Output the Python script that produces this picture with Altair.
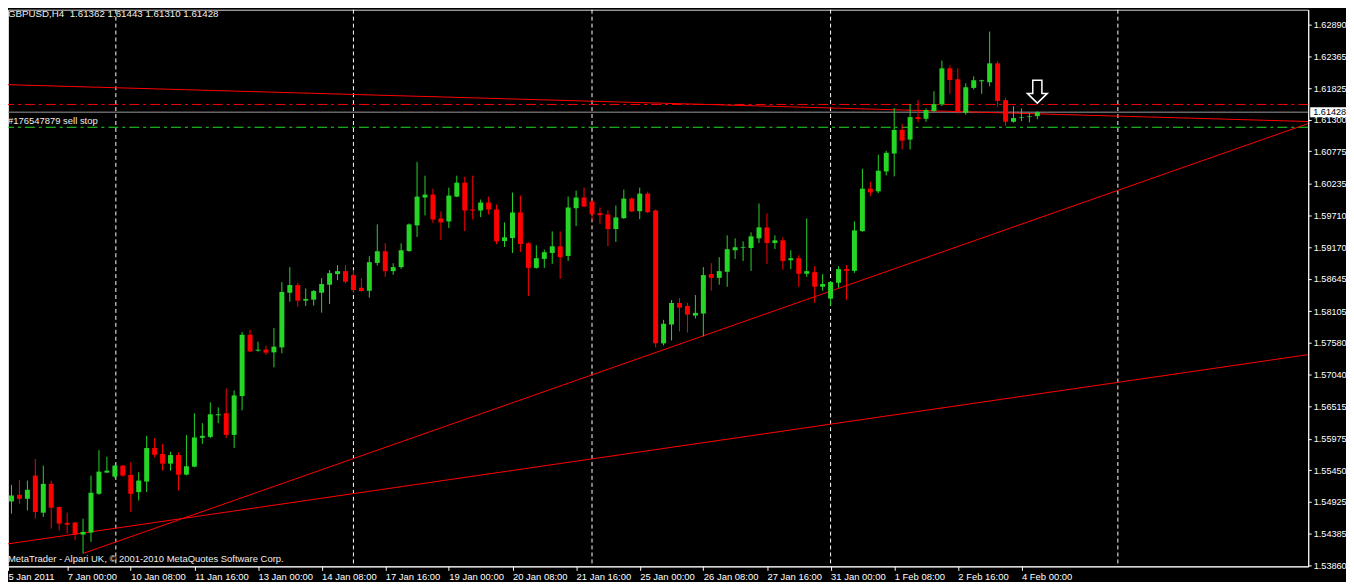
import json
import altair as alt
import pandas as pd

# ---------------- data ----------------
symbol_title = "GBPUSD,H4\u00a0\u00a01.61362 1.61443 1.61310 1.61428"
footer_text = "MetaTrader - Alpari UK, \u00a9 2001-2010 MetaQuotes Software Corp."
order_text = "#176547879 sell stop"
bid_text = "1.61428"

opens = [1.54922, 1.54927, 1.55038, 1.54972, 1.55359, 1.54740, 1.55221, 1.54834, 1.54569, 1.54574,
         1.54374, 1.54408, 1.55055, 1.55409, 1.55342, 1.55525, 1.55370, 1.55083, 1.55259, 1.55819,
         1.55719, 1.55558, 1.55702, 1.55375, 1.55508, 1.55990, 1.56006, 1.56366, 1.56400, 1.56039,
         1.56687, 1.57711, 1.57445, 1.57462, 1.57417, 1.57500, 1.58413, 1.58541, 1.58280, 1.58297,
         1.58413, 1.58546, 1.58724, 1.58773, 1.58707, 1.58496, 1.58446, 1.58911, 1.59105, 1.58773,
         1.58840, 1.59110, 1.59537, 1.60002, 1.60052, 1.59653, 1.59603, 1.60018, 1.60251, 1.59803,
         1.59786, 1.59919, 1.59803, 1.59276, 1.59326, 1.59753, 1.59238, 1.58828, 1.58978, 1.59077,
         1.59188, 1.59027, 1.59824, 1.60002, 1.59935, 1.59741, 1.59720, 1.59476, 1.59658, 1.59985,
         1.59774, 1.60068, 1.59786, 1.57567, 1.57882, 1.58242, 1.58192, 1.58031, 1.58065, 1.58724,
         1.58662, 1.58762, 1.59122, 1.59160, 1.59160, 1.59321, 1.59504, 1.59243, 1.59288, 1.58956,
         1.58989, 1.58729, 1.58757, 1.58513, 1.58314, 1.58579, 1.58807, 1.58778, 1.59442, 1.60151,
         1.60106, 1.60438, 1.60737, 1.61131, 1.60970, 1.61346, 1.61318, 1.61446, 1.61557, 1.62160,
         1.61977, 1.61418, 1.61833, 1.61944, 1.61927, 1.62243, 1.61629, 1.61268, 1.61330, 1.61346,
         1.61362]
highs = [1.55110, 1.55204, 1.55287, 1.55276, 1.55636, 1.55525, 1.55276, 1.54844, 1.54740, 1.54585,
         1.54640, 1.55359, 1.55785, 1.55674, 1.55536, 1.55536, 1.55581, 1.55415, 1.56023, 1.55985,
         1.55885, 1.55757, 1.55747, 1.56034, 1.56400, 1.56234, 1.56582, 1.56499, 1.56815, 1.56781,
         1.57756, 1.57794, 1.57595, 1.57528, 1.57822, 1.58591, 1.58840, 1.58579, 1.58486, 1.58458,
         1.58657, 1.58790, 1.58873, 1.58873, 1.58790, 1.58657, 1.59022, 1.59554, 1.59238, 1.58906,
         1.59238, 1.59570, 1.60599, 1.60367, 1.60151, 1.59769, 1.60168, 1.60367, 1.60350, 1.60367,
         1.59969, 1.60018, 1.59886, 1.59587, 1.60085, 1.60035, 1.59255, 1.59205, 1.59134, 1.59437,
         1.59437, 1.60018, 1.60118, 1.60168, 1.59952, 1.59836, 1.59786, 1.59869, 1.60135, 1.60002,
         1.60168, 1.60101, 1.59803, 1.57960, 1.58292, 1.58325, 1.58242, 1.58375, 1.58840, 1.58906,
         1.59006, 1.59371, 1.59321, 1.59271, 1.59421, 1.59902, 1.59736, 1.59371, 1.59338, 1.59122,
         1.59039, 1.59653, 1.58856, 1.58724, 1.58607, 1.58856, 1.58873, 1.59603, 1.60483, 1.60267,
         1.60716, 1.60782, 1.61496, 1.61230, 1.61562, 1.61629, 1.61491, 1.61778, 1.62288, 1.62210,
         1.62160, 1.61911, 1.62027, 1.61969, 1.62774, 1.62276, 1.61667, 1.61529, 1.61491, 1.61413,
         1.61443]
lows = [1.54507, 1.54723, 1.54889, 1.54778, 1.54640, 1.54668, 1.54474, 1.54446, 1.54391, 1.54280,
        1.54059, 1.54253, 1.55038, 1.55404, 1.55321, 1.55342, 1.54751, 1.54944, 1.55083, 1.55664,
        1.55442, 1.55442, 1.55110, 1.55362, 1.55498, 1.55890, 1.55985, 1.56234, 1.55985, 1.55819,
        1.56449, 1.57420, 1.57429, 1.57379, 1.57168, 1.57401, 1.58264, 1.58181, 1.58192, 1.58197,
        1.58081, 1.58226, 1.58624, 1.58569, 1.58403, 1.58430, 1.58330, 1.58868, 1.58679, 1.58712,
        1.58812, 1.59094, 1.59343, 1.59703, 1.59575, 1.59293, 1.59492, 1.60007, 1.59442, 1.59637,
        1.59675, 1.59720, 1.59222, 1.59177, 1.59077, 1.59094, 1.58358, 1.58815, 1.58828, 1.58895,
        1.58646, 1.58944, 1.59525, 1.59841, 1.59608, 1.59559, 1.59193, 1.59260, 1.59645, 1.59758,
        1.59642, 1.59741, 1.57500, 1.57533, 1.57616, 1.57766, 1.57749, 1.57982, 1.57683, 1.58446,
        1.58546, 1.58513, 1.58978, 1.58944, 1.58778, 1.59243, 1.58895, 1.59144, 1.58795, 1.58807,
        1.58513, 1.58679, 1.58247, 1.58446, 1.58197, 1.58496, 1.58297, 1.58745, 1.59429, 1.60023,
        1.60077, 1.60372, 1.60355, 1.60804, 1.60804, 1.61263, 1.61268, 1.61434, 1.61529, 1.61733,
        1.61401, 1.61385, 1.61806, 1.61733, 1.61861, 1.61524, 1.61197, 1.61252, 1.61280, 1.61258,
        1.61310]
closes = [1.54955, 1.55027, 1.54972, 1.55121, 1.54751, 1.55221, 1.54823, 1.54557, 1.54540, 1.54374,
          1.54419, 1.55072, 1.55425, 1.55442, 1.55525, 1.55359, 1.55055, 1.55276, 1.55819, 1.55707,
          1.55558, 1.55702, 1.55375, 1.55515, 1.55996, 1.56023, 1.56383, 1.56383, 1.56039, 1.56698,
          1.57711, 1.57434, 1.57462, 1.57412, 1.57512, 1.58425, 1.58541, 1.58280, 1.58309, 1.58441,
          1.58558, 1.58740, 1.58773, 1.58596, 1.58458, 1.58441, 1.58923, 1.59105, 1.58773, 1.58840,
          1.59122, 1.59554, 1.60018, 1.60052, 1.59637, 1.59587, 1.60035, 1.60251, 1.59786, 1.59786,
          1.59919, 1.59803, 1.59271, 1.59338, 1.59753, 1.59227, 1.58828, 1.58989, 1.59089, 1.59188,
          1.59006, 1.59836, 1.60002, 1.59852, 1.59725, 1.59708, 1.59476, 1.59670, 1.59985, 1.59769,
          1.60068, 1.59758, 1.57567, 1.57894, 1.58242, 1.58164, 1.58048, 1.58076, 1.58707, 1.58662,
          1.58773, 1.59139, 1.59172, 1.59172, 1.59354, 1.59504, 1.59243, 1.59288, 1.58944, 1.58989,
          1.58729, 1.58773, 1.58513, 1.58558, 1.58591, 1.58807, 1.58778, 1.59454, 1.60151, 1.60090,
          1.60450, 1.60749, 1.61131, 1.60953, 1.61346, 1.61313, 1.61463, 1.61562, 1.62160, 1.61966,
          1.61434, 1.61844, 1.61961, 1.61961, 1.62243, 1.61617, 1.61268, 1.61330, 1.61341, 1.61358,
          1.61428]

time_labels = ["5 Jan 2011", "7 Jan 00:00", "10 Jan 08:00", "11 Jan 16:00", "13 Jan 00:00",
               "14 Jan 08:00", "17 Jan 16:00", "19 Jan 00:00", "20 Jan 08:00", "21 Jan 16:00",
               "25 Jan 00:00", "26 Jan 08:00", "27 Jan 16:00", "31 Jan 00:00", "1 Feb 08:00",
               "2 Feb 16:00", "4 Feb 00:00"]
time_label_bars = [0.5625, 8, 16, 24, 32, 40, 48, 56, 64, 72, 80, 88, 96, 104, 112, 120, 128]

price_labels = [1.62890, 1.62365, 1.61825, 1.61300, 1.60775, 1.60235, 1.59710, 1.59170, 1.58645,
                1.58105, 1.57580, 1.57040, 1.56515, 1.55975, 1.55450, 1.54925, 1.54385, 1.53860]

grid_bars = [14.125, 44, 74, 104, 140.125]

trend_names = ["upper", "upper", "steep", "steep", "lower", "lower"]
trend_bars = [0, 164.0625, 10, 164.0625, 0, 164.0625]
trend_prices = [1.61889, 1.61272, 1.54059, 1.61238, 1.54208, 1.57379]

bid_price = 1.61428
order_price = 1.61176
stop_price = 1.61557
arrow_bar = 130
arrow_price = 1.61770

# ---------------- tables ----------------
candles = pd.DataFrame({"bar": list(range(len(opens))), "open": opens, "high": highs,
                        "low": lows, "close": closes})
candles["dir"] = ["up" if c >= o else "down" for o, c in zip(opens, closes)]
trends = pd.DataFrame({"line": trend_names, "bar": trend_bars, "price": trend_prices})
grid = pd.DataFrame({"bar": grid_bars})
levels = pd.DataFrame({"price": [bid_price, order_price, stop_price],
                       "kind": ["bid", "order", "stop"]})
arrow = pd.DataFrame({"bar": [arrow_bar], "price": [arrow_price]})
bid_df = pd.DataFrame({"price": [bid_price], "label": [bid_text]})
order_df = pd.DataFrame({"price": [order_price], "label": [order_text]})
texts = pd.DataFrame({"title": [symbol_title], "footer": [footer_text]})

FONT = "Liberation Sans"
WHITE = "#ffffff"
UP = "#26d626"
DOWN = "#ff0000"

x_scale = alt.Scale(domain=[0.5625, 164.0625], nice=False, zero=False)
y_scale = alt.Scale(domain=[1.53843, 1.63139], nice=False, zero=False)

label_expr = json.dumps(time_labels) + "[round(datum.value / 8)]"
x_axis = alt.Axis(values=time_label_bars, labelExpr=label_expr, tickSize=4, labelAlign="left",
                  labelBaseline="top", labelPadding=1, labelOverlap=False, labelFlush=False,
                  title=None, grid=False, domainColor=WHITE, tickColor=WHITE,
                  labelColor=WHITE, labelFont=FONT, labelFontSize=9.5)
y_axis = alt.Axis(orient="right", values=price_labels, format=".5f", tickSize=3,
                  labelPadding=2, labelOverlap=False, labelFlush=False, title=None,
                  grid=False, domainColor=WHITE, tickColor=WHITE, labelColor=WHITE,
                  labelFont=FONT, labelFontSize=9.2, labelBaseline="middle")


def X(field):
    return alt.X(field, type="quantitative", scale=x_scale, axis=x_axis)


def Y(field):
    return alt.Y(field, type="quantitative", scale=y_scale, axis=y_axis)


color = alt.Color("dir:N", scale=alt.Scale(domain=["up", "down"], range=[UP, DOWN]),
                  legend=None)

grid_layer = alt.Chart(grid).mark_rule(color=WHITE, strokeWidth=1, strokeDash=[4, 3]).encode(
    x=X("bar"))

bid_layer = alt.Chart(levels).transform_filter("datum.kind == 'bid'").mark_rule(
    color="#9a9aa0", strokeWidth=1).encode(y=Y("price"))
order_layer = alt.Chart(levels).transform_filter("datum.kind == 'order'").mark_rule(
    color="#22dd22", strokeWidth=1, strokeDash=[10, 4, 3, 4]).encode(y=Y("price"))
stop_layer = alt.Chart(levels).transform_filter("datum.kind == 'stop'").mark_rule(
    color=DOWN, strokeWidth=1, strokeDash=[10, 4, 3, 4]).encode(y=Y("price"))

trend_layer = alt.Chart(trends).mark_line(color=DOWN, strokeWidth=1, clip=True).encode(
    x=X("bar"), y=Y("price"), detail="line:N")

wicks = alt.Chart(candles).mark_rule(strokeWidth=1).encode(
    x=X("bar"), y=Y("low"), y2="high", color=color)
bodies = alt.Chart(candles).transform_calculate(
    x1="datum.bar - 0.3125", x2="datum.bar + 0.3125").mark_rect().encode(
    x=X("x1"), x2="x2", y=Y("open"), y2="close", color=color)

arrow_path = "M-0.4,-1L0.4,-1L0.4,0.15L0.87,0.15L0,1L-0.87,0.15L-0.4,0.15Z"
arrow_layer = alt.Chart(arrow).mark_point(shape=arrow_path, size=529, filled=True,
                                          fill="#000000", stroke=WHITE, strokeWidth=1.5,
                                          opacity=1).encode(x=X("bar"), y=Y("price"))

box_layer = alt.Chart(bid_df).mark_rect(color=WHITE, yOffset=-5, y2Offset=5).encode(
    x=alt.value(1310), x2=alt.value(1346), y=Y("price"), y2="price")
box_text = alt.Chart(bid_df).mark_text(font=FONT, fontSize=9.2, color="#000000",
                                       align="left", baseline="middle").encode(
    x=alt.value(1313), y=Y("price"), text="label:N")

order_label = alt.Chart(order_df).mark_text(font=FONT, fontSize=9.5, color="#eeeeee",
                                            align="left", baseline="alphabetic", dy=-3).encode(
    x=alt.value(0), y=Y("price"), text="label:N")

title_layer = alt.Chart(texts).mark_text(font=FONT, fontSize=9.8, color="#eeeeee",
                                         align="left", baseline="alphabetic").encode(
    x=alt.value(0), y=alt.value(7), text="title:N")
footer_layer = alt.Chart(texts).mark_text(font=FONT, fontSize=9.5, color="#eeeeee",
                                          align="left", baseline="alphabetic").encode(
    x=alt.value(0), y=alt.value(556), text="footer:N")

chart = alt.layer(
    grid_layer, stop_layer, bid_layer, order_layer, trend_layer,
    wicks, bodies, arrow_layer, box_layer, box_text, order_label, title_layer, footer_layer
).properties(
    width=1308, height=560,
    padding={"left": 0, "top": 0, "right": 38, "bottom": 14},
    autosize=alt.AutoSizeParams(type="none"),
    background="#000000",
).configure_view(
    stroke=WHITE, strokeWidth=1, fill="#000000"
).configure(font=FONT)

chart.save("out.html", embed_options={"renderer": "svg", "actions": False})
